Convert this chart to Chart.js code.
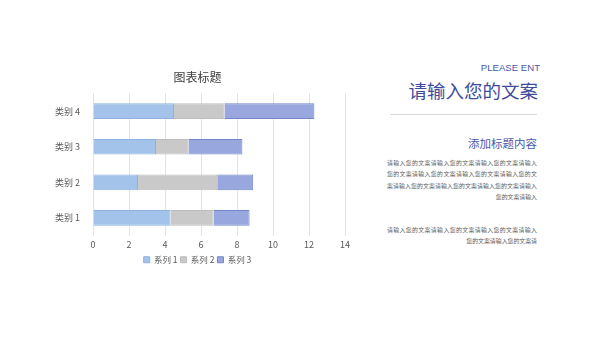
<!DOCTYPE html>
<html><head><meta charset="utf-8">
<script src="https://cdn.jsdelivr.net/npm/chart.js@4/dist/chart.umd.min.js"></script>
<style>
html,body{margin:0;padding:0;background:#fff;}
body{width:600px;height:338px;position:relative;overflow:hidden;font-family:"Noto Sans CJK SC","Noto Sans",sans-serif;}
#wrap{position:absolute;left:0;top:0;width:380px;height:290px;}
.r{position:absolute;white-space:nowrap;}
.body{position:absolute;left:387px;width:150px;font-size:5.9px;color:#595959;line-height:11.3px;}
.body div{text-align:justify;text-align-last:justify;white-space:nowrap;}
.body div.last{text-align-last:right;text-align:right;}
</style></head><body>
<div id="wrap"><canvas id="c" width="380" height="290"></canvas></div>
<div class="r" style="right:60px;top:62px;font-size:9.6px;color:#4a58a6;font-family:'Liberation Sans',Arial,sans-serif;">PLEASE ENT</div>
<div class="r" style="right:62px;top:76px;font-size:18.5px;color:#3f4c9c;line-height:28px;">请输入您的文案</div>
<div style="position:absolute;left:390px;top:114px;width:147px;height:1px;background:#d9d9d9;"></div>
<div class="r" style="right:63px;top:135px;font-size:11.5px;color:#4b59a8;">添加标题内容</div>
<div class="body" style="top:157px;">
<div>请输入您的文案请输入您的文案请输入您的文案请输入</div>
<div>您的文案请输入您的文案请输入您的文案请输入您的文</div>
<div>案请输入您的文案请输入您的文案请输入您的文案请输入</div>
<div class="last">您的文案请输入</div>
</div>
<div class="body" style="top:224px;">
<div>请输入您的文案请输入您的文案请输入您的文案请输入</div>
<div class="last">您的文案请输入您的文案请</div>
</div>
<script>
const categories = ["类别 1", "类别 2", "类别 3", "类别 4"];
const seriesNames = ["系列 1", "系列 2", "系列 3"];
const series1 = [4.3, 2.5, 3.5, 4.5];
const series2 = [2.4, 4.4, 1.8, 2.8];
const series3 = [2, 2, 3, 5];
const xTicks = [0, 2, 4, 6, 8, 10, 12, 14];

const fills = ["#a3c3ea", "#c9c9c9", "#98a7dd"];
const borders = ["#8eb2e0", "#bdbdbd", "#7386c8"];
const font = "'Noto Sans CJK SC','Noto Sans',sans-serif";

new Chart(document.getElementById("c"), {
  type: "bar",
  data: {
    labels: categories,
    datasets: [series1, series2, series3].map((d, i) => ({
      label: seriesNames[i],
      data: d,
      backgroundColor: fills[i],
      borderColor: borders[i],
      borderWidth: 1,
      categoryPercentage: 0.44,
      barPercentage: 1
    }))
  },
  options: {
    indexAxis: "y",
    responsive: false,
    animation: false,
    devicePixelRatio: 1,
    layout: { padding: { left: 50, right: 35, top: 70, bottom: 16 } },
    plugins: {
      title: { display: true, text: "图表标题", color: "#404040", font: { family: font, size: 12, weight: "normal" }, padding: { top: 0, bottom: 9 } },
      legend: { position: "bottom", labels: { boxWidth: 6, boxHeight: 6, color: "#595959", font: { family: font, size: 8.5 }, padding: 3 } },
      tooltip: { enabled: false }
    },
    scales: {
      x: {
        stacked: true, min: 0, max: 14,
        afterBuildTicks: s => { s.ticks = xTicks.map(v => ({ value: v })); },
        grid: { color: "#e3e3e3", drawTicks: false },
        border: { display: false },
        ticks: { color: "#595959", font: { family: font, size: 9 }, padding: 3 }
      },
      y: {
        stacked: true, reverse: true,
        grid: { display: false },
        border: { display: false },
        ticks: { color: "#595959", font: { family: font, size: 9 }, padding: 5 },
        afterFit: s => { s.width = 43; }
      }
    }
  }
});
</script>
</body></html>
